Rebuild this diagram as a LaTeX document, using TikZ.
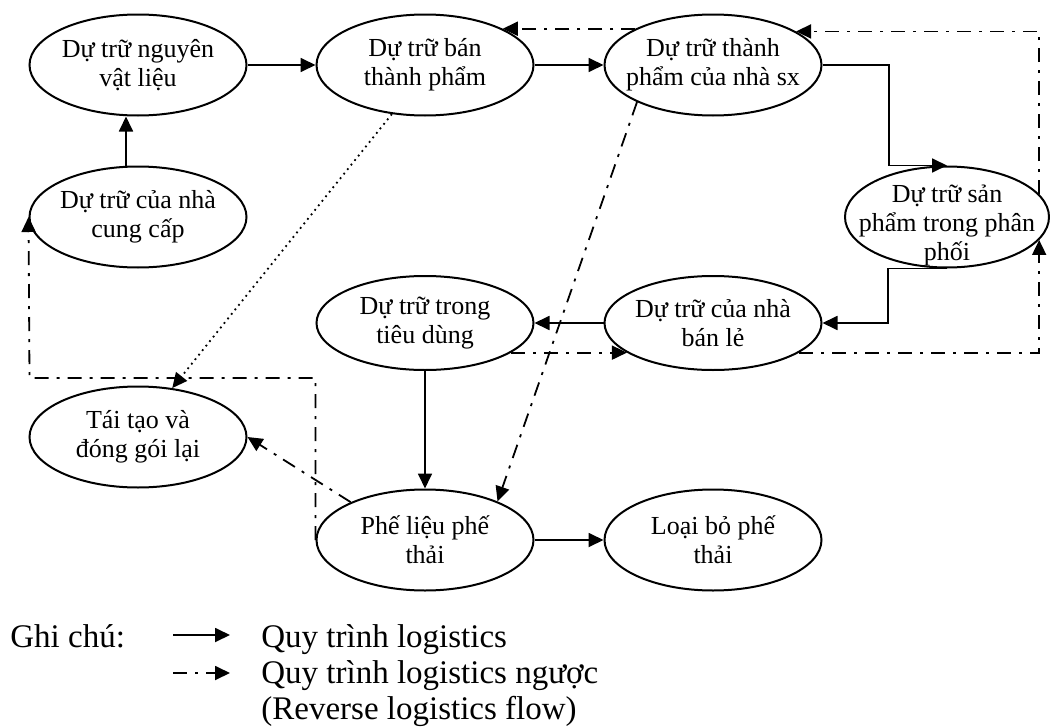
\documentclass[tikz,border=0pt]{standalone}
\usepackage{fontspec}
\setmainfont{Liberation Serif}
\usetikzlibrary{shapes.geometric,arrows.meta,calc}

\begin{document}
\begin{tikzpicture}[x=0.5pt,y=-0.5pt,
  stock/.style={ellipse,draw,line width=1pt,inner xsep=-20pt,inner ysep=-8pt,
    minimum width=108.5pt,minimum height=50.5pt,align=center,
    font=\fontsize{13pt}{14.5pt}\selectfont},
  caption/.style={inner sep=0pt,align=center,
    font=\fontsize{13pt}{14.5pt}\selectfont},
  flow/.style={line width=0.9pt,-{Triangle[length=7.5pt,width=7pt]}},
  rev/.style={flow,dash pattern=on 7pt off 4pt on 1.5pt off 4pt},
  back/.style={flow,dotted},
  note/.style={anchor=base west,inner sep=0pt,
    font=\fontsize{16.5pt}{18pt}\selectfont}]
\useasboundingbox (0,0) rectangle (1050,728);

% inventory stages
\node[stock] (nvl) at (138,65)  {Dự trữ nguyên\\vật liệu};
\node[stock] (btp) at (425,65)  {Dự trữ bán\\thành phẩm};
\node[stock] (tp)  at (713,65)  {Dự trữ thành\\phẩm của nhà sx};
\node[stock] (ncc) at (138,217) {Dự trữ của nhà\\cung cấp};
\node[stock,minimum width=102pt] (pp) at (947,217) {};
\node[caption] (ppt) at ([yshift=-4pt]pp.center) {Dự trữ sản\\phẩm trong phân\\phối};
\node[stock,minimum height=47pt] (td) at (425,323) {Dự trữ trong\\tiêu dùng};
\node[stock,minimum height=47pt] (bl) at (713,323) {Dự trữ của nhà\\bán lẻ};
\node[stock] (tt)  at (138,437) {Tái tạo và\\đóng gói lại};
\node[stock] (pl)  at (425,540) {Phế liệu phế\\thải};
\node[stock] (lb)  at (713,540) {Loại bỏ phế\\thải};

% forward logistics flow
\draw[flow] (nvl.east) -- (btp.west);
\draw[flow] (btp.east) -- (tp.west);
\draw[flow] ([xshift=-6pt]ncc.north) -- ([xshift=-6pt]nvl.south);
\draw[flow] (tp.east) -- ++(66.5,0) |- (pp.north);
\draw[flow] (pp.south) -- ++(-59,0) |- (bl.east);
\draw[flow] (bl.west) -- (td.east);
\draw[flow] (td.south) -- (pl.north);
\draw[flow] (pl.east) -- (lb.west);

% reverse logistics flow
\coordinate (rt) at (29.5,378);
\draw[rev] (tp.155) -- (btp.25);
\draw[rev] (pp.14) |- (tp.22);
\draw[rev] (td.-19) -- (bl.-161);
\draw[rev] (bl.-19) -| (pp.-14);
\draw[rev] (tp.-154) -- (pl.28);
\draw[back] (btp.-124) -- (tt.55);
\draw[rev] (pl.west) |- (rt) -- (ncc.west);
\draw[rev] (pl.153) -- (tt.east);

% legend
\coordinate (la1) at (173,635);
\coordinate (lb1) at (230,635);
\coordinate (la2) at (173,673);
\coordinate (lb2) at (230,673);
\node[note] (gc) at (10,647) {Ghi chú:};
\draw[flow] (la1) -- (lb1);
\draw[rev] (la2) -- (lb2);
\node[note] (n1) at (261,647) {Quy trình logistics};
\node[note] (n2) at (261,683) {Quy trình logistics ngược};
\node[note] (n3) at (261,719) {(Reverse logistics flow)};
\end{tikzpicture}
\end{document}
